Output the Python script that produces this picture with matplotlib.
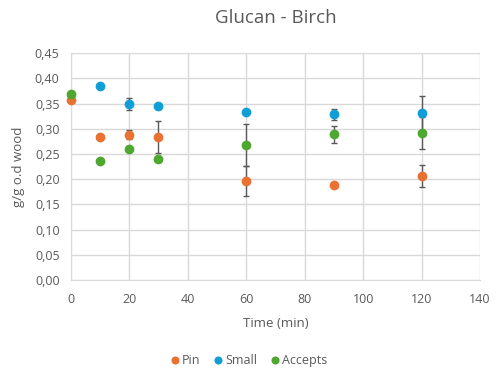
import matplotlib.pyplot as plt
from matplotlib.ticker import FuncFormatter, MultipleLocator

plt.rcParams['font.family'] = ['Open Sans', 'DejaVu Sans']

time_pin = [0, 10, 20, 30, 60, 90, 120]
pin = [0.358, 0.284, 0.288, 0.284, 0.197, 0.189, 0.206]
pin_err = [0, 0, 0.009, 0.032, 0.030, 0, 0.022]

time_small = [10, 20, 30, 60, 90, 120]
small = [0.386, 0.349, 0.345, 0.334, 0.329, 0.331]
small_err = [0, 0.012, 0, 0, 0.011, 0.035]

time_acc = [0, 10, 20, 30, 60, 90, 120]
accepts = [0.370, 0.237, 0.261, 0.241, 0.268, 0.289, 0.292]
accepts_err = [0, 0, 0, 0, 0.041, 0.017, 0.032]

series = [
    ('Pin', time_pin, pin, pin_err, '#E97132'),
    ('Small', time_small, small, small_err, '#0F9ED5'),
    ('Accepts', time_acc, accepts, accepts_err, '#4EA72E'),
]

fig = plt.figure(figsize=(4.96, 3.70), dpi=100, facecolor='w')
ax = fig.add_axes([0.1425, 0.2432, 0.8255, 0.6128])

for name, t, v, e, c in series:
    ax.errorbar(t, v, yerr=e, fmt='none', ecolor='#595959', elinewidth=1,
                capsize=2.5, capthick=1, zorder=2)
    ax.plot(t, v, 'o', color=c, ms=6, label=name, zorder=3, clip_on=False)

ax.set_xlim(0, 140)
ax.set_ylim(0, 0.45)
ax.xaxis.set_major_locator(MultipleLocator(20))
ax.yaxis.set_major_locator(MultipleLocator(0.05))
ax.yaxis.set_major_formatter(FuncFormatter(lambda y, p: f'{y:.2f}'.replace('.', ',')))
ax.grid(True, color='#D9D9D9', lw=1)
ax.set_axisbelow(True)
ax.tick_params(length=0, labelsize=9, colors='#595959')
ax.tick_params(axis='x', pad=9)
ax.tick_params(axis='y', pad=8)
for s in ('top', 'right'):
    ax.spines[s].set_visible(False)
for s in ('left', 'bottom'):
    ax.spines[s].set_color('#D9D9D9')

ax.set_title('Glucan - Birch', fontsize=13.5, color='#595959', pad=22)
ax.set_xlabel('Time (min)', fontsize=9.5, color='#595959', labelpad=8)
ax.set_ylabel('g/g o.d wood', fontsize=9.5, color='#595959', labelpad=7)

leg = fig.legend(loc='center', bbox_to_anchor=(0.5, 0.025), ncol=3, frameon=False,
                 fontsize=9, handletextpad=0.1, columnspacing=0.9, handlelength=1,
                 markerscale=0.8)
for txt in leg.get_texts():
    txt.set_color('#595959')

plt.savefig('out.png', dpi=100)
